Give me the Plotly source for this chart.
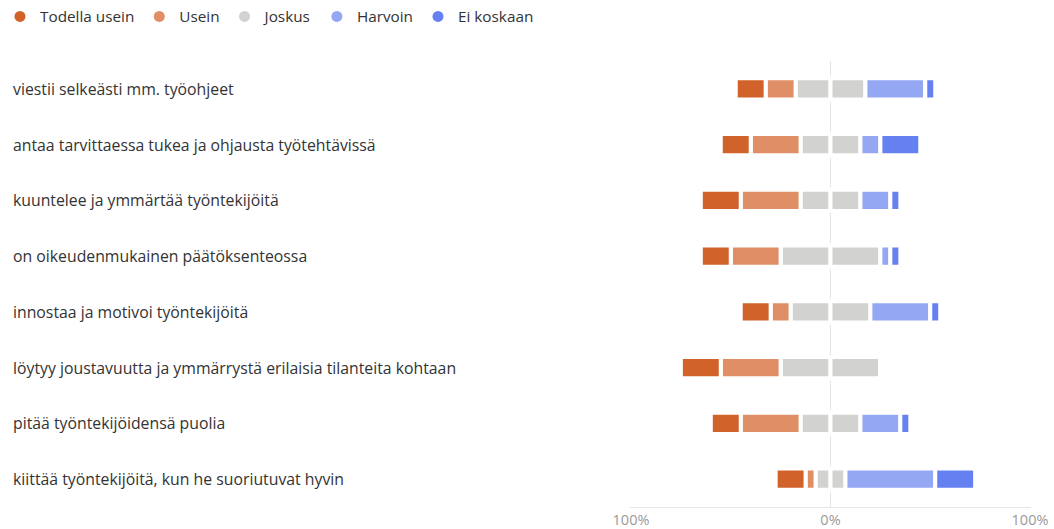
import plotly.graph_objects as go

categories = [
    "viestii selkeästi mm. työohjeet",
    "antaa tarvittaessa tukea ja ohjausta työtehtävissä",
    "kuuntelee ja ymmärtää työntekijöitä",
    "on oikeudenmukainen päätöksenteossa",
    "innostaa ja motivoi työntekijöitä",
    "löytyy joustavuutta ja ymmärrystä erilaisia tilanteita kohtaan",
    "pitää työntekijöidensä puolia",
    "kiittää työntekijöitä, kun he suoriutuvat hyvin",
]
todella_usein = [15, 15, 20, 15, 15, 20, 15, 15]
usein = [15, 25, 30, 25, 10, 30, 30, 5]
joskus = [35, 30, 30, 50, 40, 50, 30, 15]
harvoin = [30, 10, 15, 5, 30, 0, 20, 45]
ei_koskaan = [5, 20, 5, 5, 5, 0, 5, 20]

series_names = ["Todella usein", "Usein", "Joskus", "Harvoin", "Ei koskaan"]
colors = ["#D0622A", "#E08E65", "#D2D2D0", "#93A7F3", "#6580F0"]
tick_vals = [-100, 0, 100]
tick_text = ["100%", "0%", "100%"]

FONT = "Open Sans"
TEXT = "#333333"

W, H = 1054, 529
ML, MR, MT, MB = 630, 23, 61, 22
plot_w = W - ML - MR

fig = go.Figure()

bar_style = dict(orientation="h", width=0.38, showlegend=False,
                 marker_line_color="white", marker_line_width=4)

# negative side: closest to zero first
fig.add_trace(go.Bar(y=categories, x=[-v / 2 for v in joskus], marker_color=colors[2],
                     name=series_names[2], **bar_style))
fig.add_trace(go.Bar(y=categories, x=[-v for v in usein], marker_color=colors[1],
                     name=series_names[1], **bar_style))
fig.add_trace(go.Bar(y=categories, x=[-v for v in todella_usein], marker_color=colors[0],
                     name=series_names[0], **bar_style))
# positive side
fig.add_trace(go.Bar(y=categories, x=[v / 2 for v in joskus], marker_color=colors[2],
                     name=series_names[2], **bar_style))
fig.add_trace(go.Bar(y=categories, x=harvoin, marker_color=colors[3],
                     name=series_names[3], **bar_style))
fig.add_trace(go.Bar(y=categories, x=ei_koskaan, marker_color=colors[4],
                     name=series_names[4], **bar_style))

# legend entries with circle symbols
for name, col in zip(series_names, colors):
    fig.add_trace(go.Scatter(x=[None], y=[None], mode="markers", name=name,
                             marker=dict(symbol="circle", size=11, color=col),
                             showlegend=True))

label_x = (12 - ML) / plot_w
annotations = [
    dict(text=c, x=label_x, xref="paper", y=c, yref="y", xanchor="left",
         showarrow=False, borderpad=0,
         font=dict(family=FONT, size=15.8, color=TEXT))
    for c in categories
]

fig.update_layout(
    width=W, height=H,
    margin=dict(l=ML, r=MR, t=MT, b=MB, autoexpand=False),
    barmode="relative",
    plot_bgcolor="white", paper_bgcolor="white",
    font=dict(family=FONT, size=15, color=TEXT),
    legend=dict(orientation="h", xref="paper", yref="paper",
                x=-ML / plot_w, y=1 + MT / (H - MT - MB),
                xanchor="left", yanchor="top",
                font=dict(family=FONT, size=15.3, color=TEXT),
                itemwidth=30, tracegroupgap=0),
    annotations=annotations,
    xaxis=dict(range=[-100.5, 100.5], tickvals=tick_vals, ticktext=tick_text,
               showgrid=True, gridcolor="#E6E6E6", gridwidth=1,
               zeroline=True, zerolinecolor="#E6E6E6", zerolinewidth=1,
               showline=True, linecolor="#E6E6E6", linewidth=1,
               tickfont=dict(family=FONT, size=14.5, color="#9A9A9A"),
               ticks="", fixedrange=True),
    yaxis=dict(autorange="reversed", showticklabels=False, showgrid=False,
               zeroline=False, fixedrange=True),
)

fig.write_html("out.html")
